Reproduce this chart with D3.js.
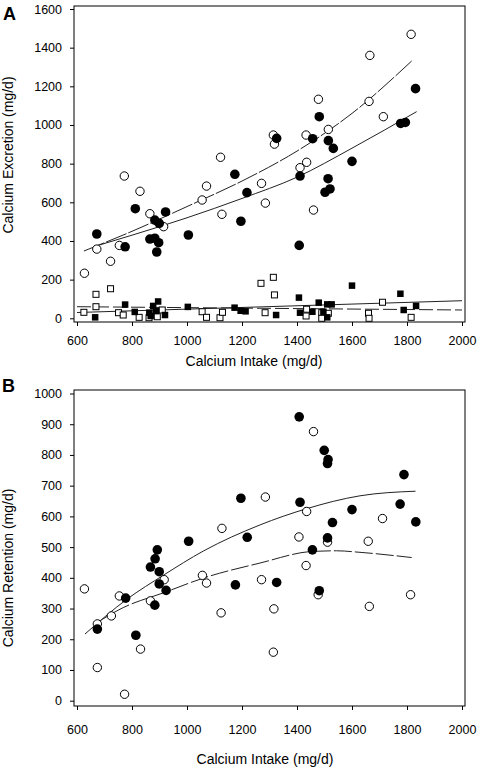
<!DOCTYPE html>
<html><head><meta charset="utf-8">
<script src="https://cdn.jsdelivr.net/npm/d3@7/dist/d3.min.js"></script>
<style>body{margin:0;background:#fff}svg{display:block}</style>
</head><body><svg id="c" width="478" height="768"></svg>
<script>
// ---------- tick labels ----------
const xTicks = [600, 800, 1000, 1200, 1400, 1600, 1800, 2000];
const yTicksA = [0, 200, 400, 600, 800, 1000, 1200, 1400, 1600];
const yTicksB = [0, 100, 200, 300, 400, 500, 600, 700, 800, 900, 1000];

// ---------- Panel A: calcium excretion ----------
const aOpenCircX = [627,672,722,754,772,829,865,915,1055,1071,1122,1127,1271,1285,1314,1318,1411,1433,1435,1460,1478,1514,1662,1665,1714,1815];
const aOpenCircY = [233,358,295,377,736,657,541,474,612,684,833,538,698,596,948,901,779,948,807,560,1133,977,1122,1360,1043,1469];
const aFillCircX = [672,775,812,865,883,890,897,883,899,922,1005,1174,1196,1218,1326,1408,1411,1457,1481,1502,1513,1514,1520,1532,1600,1777,1794,1831];
const aFillCircY = [436,370,567,410,414,343,391,508,491,550,431,745,502,650,931,377,736,929,1043,652,722,919,669,879,812,1008,1013,1188];
const aOpenSqX = [625,669,669,722,751,768,826,862,892,910,1055,1071,1120,1129,1269,1284,1314,1318,1433,1435,1490,1490,1514,1660,1662,1711,1815];
const aOpenSqY = [31,124,60,153,29,17,5,3,8,43,34,5,3,31,181,29,212,121,12,47,29,0,26,26,0,83,5];
const aFillSqX = [666,775,810,863,868,877,887,895,920,1003,1173,1195,1213,1324,1407,1411,1456,1479,1496,1510,1510,1526,1600,1776,1788,1833];
const aFillSqY = [5,71,33,29,12,64,38,87,17,59,55,39,36,17,107,29,34,81,34,72,5,72,169,127,43,64];
// fitted curves
const aOpenCurveX = [625,800,1000,1200,1400,1600,1817];
const aOpenCurveY = [348,450,578,710,865,1060,1331];
const aFillCurveX = [672,800,1000,1200,1400,1600,1835];
const aFillCurveY = [375,430,520,620,730,880,1069];
const aSqSolidX = [600,2000];
const aSqSolidY = [30,91];
const aSqDashX = [600,2000];
const aSqDashY = [60,43];

// ---------- Panel B: calcium retention ----------
const bOpenCircX = [627,674,674,725,754,773,831,867,917,1056,1071,1124,1127,1271,1285,1314,1316,1407,1433,1435,1460,1477,1511,1659,1663,1711,1813];
const bOpenCircY = [364,250,108,276,341,21,168,325,394,408,383,286,561,394,663,158,299,533,440,616,876,345,516,519,307,593,345];
const bFillCircX = [674,777,814,867,884,892,899,899,924,883,1006,1176,1196,1219,1326,1408,1411,1456,1481,1499,1511,1513,1511,1529,1600,1775,1789,1832];
const bFillCircY = [233,334,213,435,462,491,420,380,359,311,519,377,659,532,385,924,646,491,358,815,772,785,530,580,622,640,736,582];
const bFillCurveX = [629,781,917,1059,1265,1435,1629,1831];
const bFillCurveY = [217,330,410,487,572,625,667,682];
const bOpenCurveX = [665,768,917,1059,1265,1456,1544,1629,1817];
const bOpenCurveY = [250,303,352,399,448,486,488,483,466];

const FONT = '"Liberation Sans", Arial, Helvetica, sans-serif';
const svg = d3.select("#c");
const x = d3.scaleLinear().domain([600, 2000]).range([77, 462]);
const zip = (xs, ys) => xs.map((v, i) => [v, ys[i]]);

function panel(cfg) {
  const y = d3.scaleLinear().domain(cfg.ydom).range(cfg.yrange);
  const g = svg.append("g");
  g.append("rect").attr("x", 74).attr("y", cfg.top).attr("width", 391)
    .attr("height", cfg.bottom - cfg.top).attr("fill", "none").attr("stroke", "#000").attr("stroke-width", 1);

  const ya = d3.axisLeft(y).tickValues(cfg.yTicks).tickSize(4).tickPadding(8).tickFormat(d3.format("d"));
  const yg = g.append("g").attr("transform", "translate(74,0)").call(ya);
  yg.select(".domain").remove();
  yg.selectAll("text").attr("font-family", FONT).attr("font-size", 12.5).attr("fill", "#000");
  yg.selectAll("line").attr("stroke", "#000");

  const xa = d3.axisBottom(x).tickValues(xTicks).tickSize(4).tickPadding(cfg.xPad).tickFormat(d3.format("d"));
  const xg = g.append("g").attr("transform", `translate(0,${cfg.bottom})`).call(xa);
  xg.select(".domain").remove();
  xg.selectAll("text").attr("font-family", FONT).attr("font-size", 12.5).attr("fill", "#000");
  xg.selectAll("line").attr("stroke", "#000");

  const line = d3.line().x(d => x(d[0])).y(d => y(d[1])).curve(d3.curveMonotoneX);
  cfg.lines.forEach(L => {
    g.append("path").attr("d", line(zip(L.x, L.y))).attr("fill", "none")
      .attr("stroke", "#222").attr("stroke-width", 1)
      .attr("stroke-dasharray", L.dash || null);
  });

  cfg.squares.forEach(S => {
    const s = S.filled ? 6.5 : 6;
    g.append("g").selectAll("rect").data(zip(S.x, S.y)).join("rect")
      .attr("x", d => x(d[0]) - s / 2).attr("y", d => y(d[1]) - s / 2)
      .attr("width", s).attr("height", s)
      .attr("fill", S.filled ? "#000" : "#fff").attr("stroke", "#000").attr("stroke-width", S.filled ? 0 : 1);
  });
  cfg.circles.forEach(C => {
    g.append("g").selectAll("circle").data(zip(C.x, C.y)).join("circle")
      .attr("cx", d => x(d[0])).attr("cy", d => y(d[1]))
      .attr("r", C.filled ? 4.8 : 4.2)
      .attr("fill", C.filled ? "#000" : "#fff").attr("stroke", "#000").attr("stroke-width", C.filled ? 0 : 1);
  });

  g.append("text").text(cfg.letter).attr("x", cfg.letterX).attr("y", cfg.letterY)
    .attr("font-family", FONT).attr("font-weight", "bold").attr("font-size", 18);
  g.append("text").text(cfg.ytitle)
    .attr("transform", `translate(13,${cfg.ytitleY}) rotate(-90)`).attr("text-anchor", "middle")
    .attr("font-family", FONT).attr("font-size", 14);
  g.append("text").text("Calcium Intake (mg/d)").attr("x", cfg.xtitleX).attr("y", cfg.xtitleY)
    .attr("text-anchor", "middle").attr("font-family", FONT).attr("font-size", 14);
}

panel({
  ydom: [0, 1600], yrange: [318.3, 9], yTicks: yTicksA, top: 6, bottom: 322, xPad: 10,
  letter: "A", letterX: 3, letterY: 20, ytitle: "Calcium Excretion (mg/d)", ytitleY: 155,
  xtitleX: 254, xtitleY: 366,
  lines: [
    {x: aSqSolidX, y: aSqSolidY},
    {x: aSqDashX, y: aSqDashY, dash: "14,4"},
    {x: aOpenCurveX, y: aOpenCurveY, dash: "22,2"},
    {x: aFillCurveX, y: aFillCurveY}
  ],
  squares: [{x: aOpenSqX, y: aOpenSqY, filled: false}, {x: aFillSqX, y: aFillSqY, filled: true}],
  circles: [{x: aOpenCircX, y: aOpenCircY, filled: false}, {x: aFillCircX, y: aFillCircY, filled: true}]
});

panel({
  ydom: [0, 1000], yrange: [700.7, 393.5], yTicks: yTicksB, top: 390, bottom: 706, xPad: 15,
  letter: "B", letterX: 2, letterY: 392, ytitle: "Calcium Retention (mg/d)", ytitleY: 568,
  xtitleX: 265, xtitleY: 764,
  lines: [
    {x: bFillCurveX, y: bFillCurveY},
    {x: bOpenCurveX, y: bOpenCurveY, dash: "18,3"}
  ],
  squares: [],
  circles: [{x: bOpenCircX, y: bOpenCircY, filled: false}, {x: bFillCircX, y: bFillCircY, filled: true}]
});
</script>
</body></html>
